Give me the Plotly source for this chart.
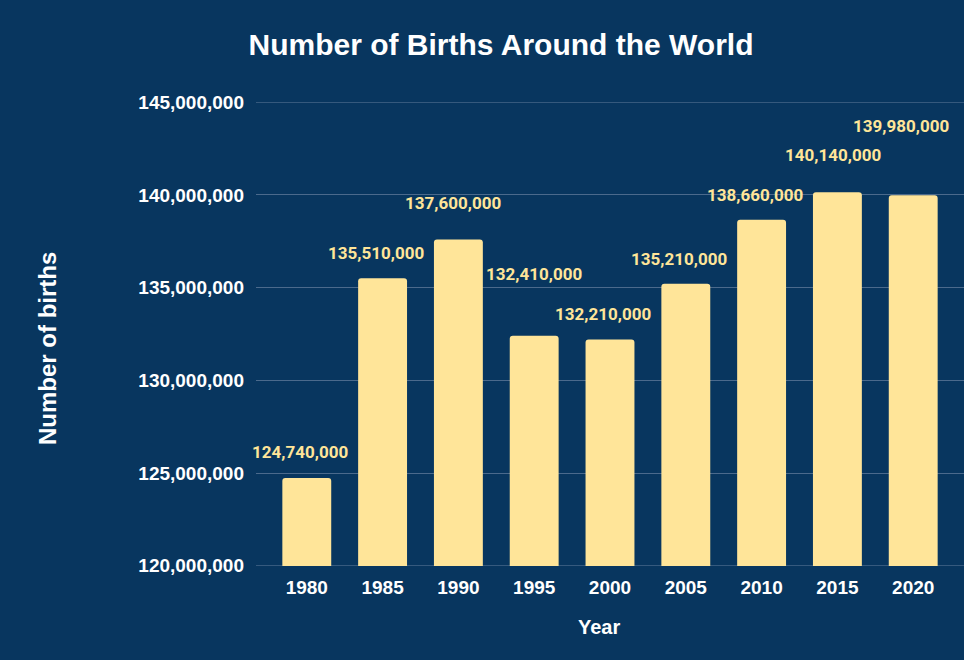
import plotly.graph_objects as go

years = ["1980", "1985", "1990", "1995", "2000", "2005", "2010", "2015", "2020"]
births = [124740000, 135510000, 137600000, 132410000, 132210000,
          135210000, 138660000, 140140000, 139980000]
y_ticks = [120000000, 125000000, 130000000, 135000000, 140000000, 145000000]

# label placement offsets (pixels), style only
label_dy = [26, 25, 36, 62, 25, 25, 25, 37, 69]
label_dx = [-7, -7, -5, 0, -7, -7, -7, -4, -12]

BG = "#08365f"
BAR = "#ffe599"
GRID = "#4b6a8c"

fig = go.Figure()
fig.add_trace(go.Bar(
    x=years, y=births,
    marker=dict(color=BAR, line=dict(width=0), cornerradius=3),
    width=0.645,
    hoverinfo="skip",
))

annotations = []
for i, (v, dy, dx) in enumerate(zip(births, label_dy, label_dx)):
    annotations.append(dict(
        x=i, y=v, xref="x", yref="y",
        text=f"{v:,}", showarrow=False,
        yanchor="middle", xanchor="center",
        yshift=dy, xshift=dx,
        font=dict(family="Roboto", size=17, color=BAR, weight="bold"),
    ))

W, H = 964, 660
ml, mr, mt, mb = 256, 0, 102, 94
pw, ph = W - ml - mr, H - mt - mb

def px2paper(px, py):
    return (px - ml) / pw, (H - mb - py) / ph

yx, yy = px2paper(599, 627)
annotations.append(dict(
    x=yx, y=yy, xref="paper", yref="paper", text="Year", showarrow=False,
    xanchor="center", yanchor="middle",
    font=dict(family="Liberation Sans", size=20, color="white", weight="bold"),
))
tx, ty = px2paper(47, 348)
annotations.append(dict(
    x=tx, y=ty, xref="paper", yref="paper", text="Number of births", showarrow=False,
    xanchor="center", yanchor="middle", textangle=-90,
    font=dict(family="Liberation Sans", size=24, color="white", weight="bold"),
))

# gridlines at the range edges (plotly omits them), drawn below the bars
shapes = [dict(type="line", xref="paper", yref="y", x0=0, x1=1, y0=t, y1=t,
               line=dict(color=GRID, width=1), layer="below")
          for t in (y_ticks[0], y_ticks[-1])]

fig.update_layout(
    width=W, height=H,
    margin=dict(l=ml, r=mr, t=mt, b=mb, pad=0),
    paper_bgcolor=BG, plot_bgcolor=BG,
    showlegend=False,
    title=dict(
        text="Number of Births Around the World",
        x=501 / W, xref="container", xanchor="center",
        y=1 - 44 / H, yref="container", yanchor="middle",
        font=dict(family="Liberation Sans", size=30, color="white", weight="bold"),
    ),
    xaxis=dict(
        type="category", range=[-0.67, 8.67],
        showgrid=False, zeroline=False, showline=False,
        ticks="", tickfont=dict(family="Liberation Sans", size=19, color="white", weight="bold"),
        ticklabelstandoff=8,
    ),
    yaxis=dict(
        range=[119990000, 145010000],
        tickvals=y_ticks, ticktext=[f"{t:,}" for t in y_ticks],
        showgrid=True, gridcolor=GRID, gridwidth=1,
        zeroline=False, showline=False, ticks="",
        tickfont=dict(family="Liberation Sans", size=19, color="white", weight="bold"),
        ticklabelstandoff=11,
    ),
    annotations=annotations,
    shapes=shapes,
    bargap=0.355,
)

fig.write_html("out.html")
